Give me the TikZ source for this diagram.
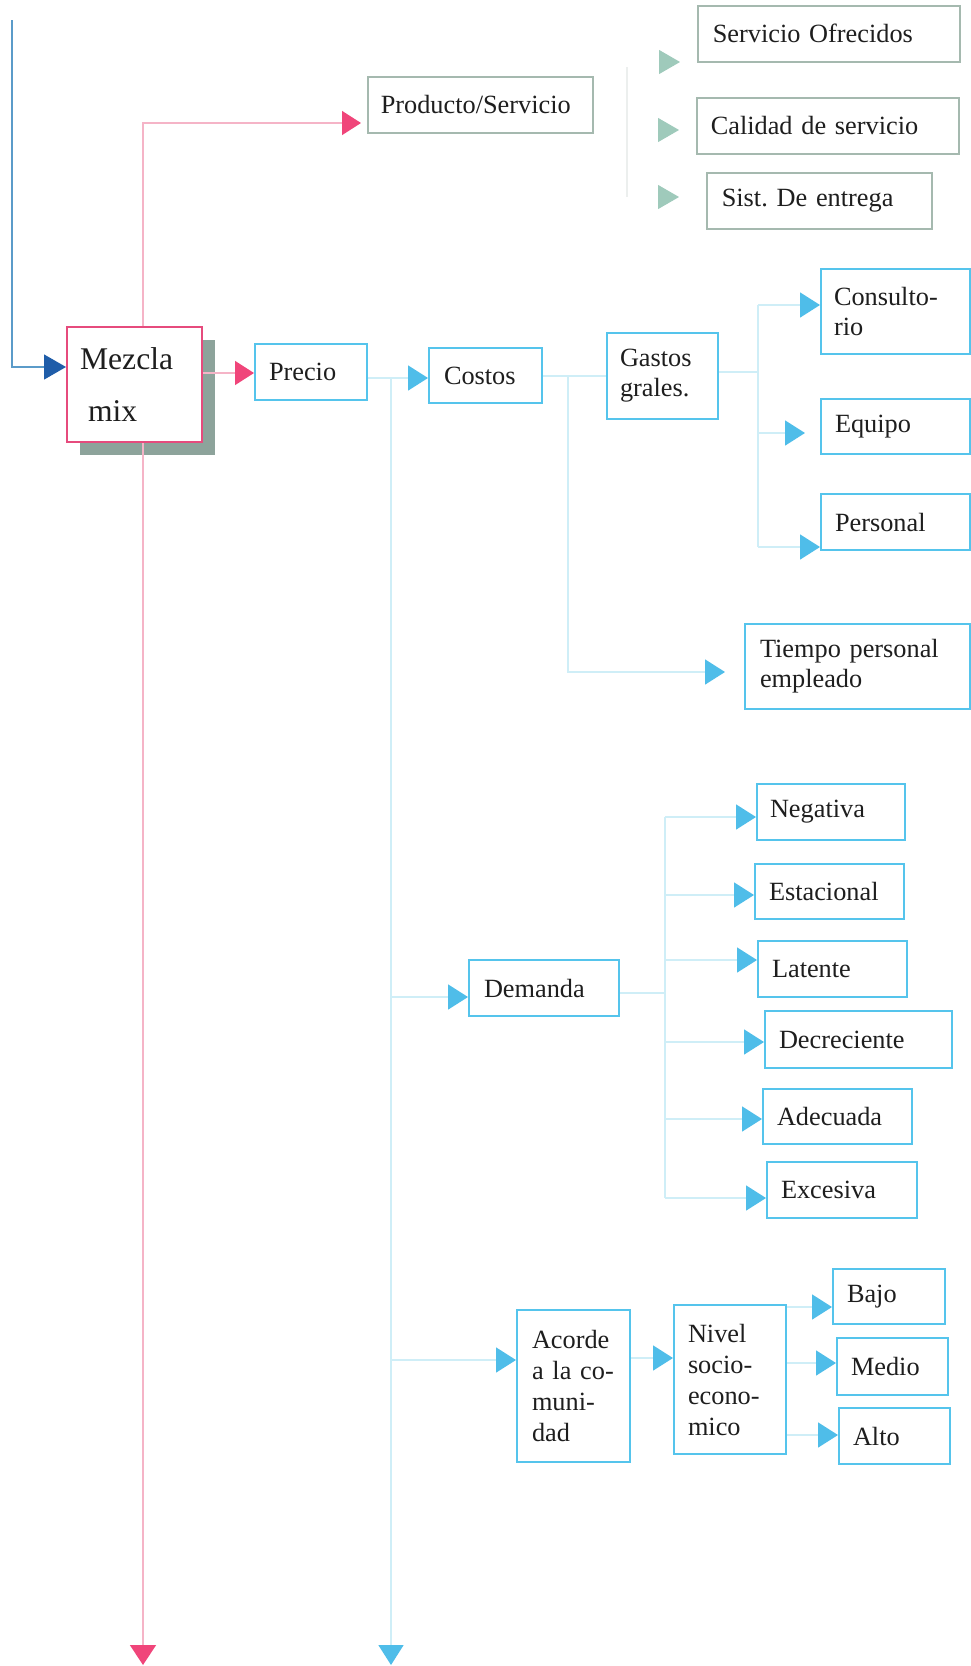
\documentclass[tikz,border=0pt]{standalone}
\usepackage{fontspec}
\setmainfont{Liberation Serif}
\usetikzlibrary{arrows.meta,calc,shadows}
\frenchspacing

\definecolor{ink}{HTML}{1E1E1E}
\definecolor{pinkEdge}{HTML}{E64B7D}
\definecolor{pinkTip}{HTML}{F0457A}
\definecolor{pinkWire}{HTML}{F5B4C7}
\definecolor{cyanEdge}{HTML}{55C4EC}
\definecolor{cyanTip}{HTML}{4FBDE9}
\definecolor{cyanWire}{HTML}{CFEEF7}
\definecolor{sageEdge}{HTML}{A5B9AF}
\definecolor{sageTip}{HTML}{9FCABB}
\definecolor{sageWire}{HTML}{ECEFEE}
\definecolor{blueWire}{HTML}{5B9BC9}
\definecolor{blueTip}{HTML}{1F5DA9}
\definecolor{shade}{HTML}{8DA39B}

\tikzset{
  lbl/.style={anchor=north west, align=left, inner ysep=0pt, text=ink, fill=white,
    font=\fontsize{26.3}{30}\selectfont},
  cbox/.style={lbl, draw=cyanEdge, line width=2pt},
  sbox/.style={lbl, draw=sageEdge, line width=1.6pt},
  pbox/.style={lbl, draw=pinkEdge, line width=2.2pt},
  cwire/.style={draw=cyanWire, line width=1.6pt},
  carrow/.style={cwire, -{Triangle[length=20pt,width=25pt,color=cyanTip]}},
  pwire/.style={draw=pinkWire, line width=1.4pt},
  parrow/.style={pwire, -{Triangle[length=19pt,width=24pt,color=pinkTip]}},
  sarrow/.style={draw=sageWire, line width=1pt, -{Triangle[length=21pt,width=24pt,color=sageTip]}},
  bwire/.style={draw=blueWire, line width=1.3pt, -{Triangle[length=22pt,width=25pt,color=blueTip]}},
}

% box with given left, top, right, bottom and left edge of its text
\newcommand\mkbox[8]{%
  \pgfmathsetmacro\mkw{#5-#3}%
  \pgfmathsetmacro\mkh{#6-#4}%
  \pgfmathsetmacro\mkd{#7-#3}%
  \pgfmathsetmacro\mkt{#5-#3-2*(#7-#3)}%
  \node[#1, minimum width=\mkw pt, minimum height=\mkh pt, inner xsep=\mkd pt, text width=\mkt pt] (#2) at (#3,#4) {#8};%
}

\begin{document}
\begin{tikzpicture}[x=1pt,y=-1pt]
\fill[white] (0,0) rectangle (971,1666);
\useasboundingbox (0,0) rectangle (971,1666);

% central box
\mkbox{pbox, font=\fontsize{31.6}{52}\selectfont,
  drop shadow={shadow xshift=13pt,shadow yshift=-13pt,fill=shade,opacity=1}}
  {mezcla}{66}{326}{201}{441}{79}{Mezcla\\\hspace*{8pt}mix}

% product branch
\mkbox{sbox}{prod}{367}{76}{592}{132}{380}{Producto/Servicio}
\mkbox{sbox}{so}{697}{5}{959}{61}{712}{Servicio Ofrecidos}
\mkbox{sbox}{cal}{696}{97}{958}{153}{710}{Calidad de servicio}
\mkbox{sbox}{sist}{706}{172}{931}{228}{721}{Sist. De entrega}

% price branch
\mkbox{cbox}{precio}{254}{343}{366}{399}{268}{Precio}
\mkbox{cbox}{costos}{428}{347}{541}{402}{443}{Costos}
\mkbox{cbox}{gastos}{606}{332}{717}{418}{619}{Gastos\\grales.}
\mkbox{cbox}{cons}{820}{268}{969}{353}{833}{Consulto-\\rio}
\mkbox{cbox}{equipo}{820}{398}{969}{453}{834}{Equipo}
\mkbox{cbox}{personal}{820}{493}{969}{549}{834}{Personal}
\mkbox{cbox}{tiempo}{744}{623}{969}{708}{759}{Tiempo personal\\empleado}

\mkbox{cbox}{demanda}{468}{959}{618}{1015}{483}{Demanda}
\mkbox{cbox}{neg}{756}{783}{904}{839}{769}{Negativa}
\mkbox{cbox}{est}{754}{863}{903}{918}{768}{Estacional}
\mkbox{cbox}{lat}{757}{940}{906}{996}{771}{Latente}
\mkbox{cbox}{dec}{764}{1010}{951}{1067}{778}{Decreciente}
\mkbox{cbox}{ade}{762}{1088}{911}{1143}{776}{Adecuada}
\mkbox{cbox}{exc}{766}{1161}{916}{1217}{780}{Excesiva}

\mkbox{cbox, font=\fontsize{26.3}{31}\selectfont}{acorde}{516}{1309}{629}{1461}{531}{Acorde\\a la co-\\muni-\\dad}
\mkbox{cbox, font=\fontsize{26.3}{31}\selectfont}{nivel}{673}{1304}{785}{1453}{687}{Nivel\\socio-\\econo-\\mico}
\mkbox{cbox}{bajo}{832}{1268}{944}{1323}{846}{Bajo}
\mkbox{cbox}{medio}{836}{1337}{947}{1394}{850}{Medio}
\mkbox{cbox}{alto}{838}{1407}{949}{1463}{852}{Alto}

% incoming line
\coordinate (bluetop) at (12,20);
\coordinate (yMz) at (0,367);
\draw[bwire] (bluetop) |- (mezcla.west |- yMz);

% pink connectors
\coordinate (pkx) at (143,0);
\coordinate (yProd) at (0,123);
\coordinate (yPrecio) at (0,373);
\coordinate (pinkEnd) at (143,1665);
\draw[parrow] (pkx |- mezcla.north) |- ($(prod.west |- yProd)+(-6,0)$);
\draw[parrow] (mezcla.east |- yPrecio) -- (precio.west |- yPrecio);
\draw[pwire, -{Triangle[length=20pt,width=26pt,color=pinkTip]}] (pkx |- mezcla.south) -- (pinkEnd);

% service markers
\coordinate (sgTop) at (627,67);
\coordinate (sgBot) at (627,197);
\draw[draw=sageWire, line width=1.4pt] (sgTop) -- (sgBot);
\coordinate (ySo) at (0,62);
\coordinate (yCal) at (0,130);
\coordinate (ySist) at (0,197);
\draw[sarrow] ($(so.west |- ySo)+(-38,0)$) -- ($(so.west |- ySo)+(-17,0)$);
\draw[sarrow] ($(cal.west |- yCal)+(-38,0)$) -- ($(cal.west |- yCal)+(-17,0)$);
\draw[sarrow] ($(sist.west |- ySist)+(-48,0)$) -- ($(sist.west |- ySist)+(-27,0)$);

% price trunk
\coordinate (trx) at (391,0);
\coordinate (yCost) at (0,378);
\coordinate (cyanEnd) at (391,1665);
\draw[carrow] (precio.east |- yCost) -- (costos.west |- yCost);
\draw[cwire, -{Triangle[length=20pt,width=25pt,color=cyanTip]}] (trx |- yCost) -- (cyanEnd);
\coordinate (yDem) at (0,997);
\draw[carrow] (trx |- yDem) -- (demanda.west |- yDem);
\coordinate (yAco) at (0,1360);
\draw[carrow] (trx |- yAco) -- (acorde.west |- yAco);

% costs
\coordinate (yGas) at (0,376);
\coordinate (cbx) at (568,0);
\coordinate (yTie) at (0,672);
\draw[cwire] (costos.east |- yGas) -- (gastos.west |- yGas);
\draw[carrow] (cbx |- yGas) |- ($(tiempo.west |- yTie)+(-19,0)$);

\coordinate (gfx) at (758,0);
\coordinate (yG) at (0,372);
\coordinate (yCons) at (0,305);
\coordinate (yEq) at (0,433);
\coordinate (yPers) at (0,547);
\draw[cwire] (gastos.east |- yG) -- (gfx |- yG);
\draw[cwire] (gfx |- yCons) -- (gfx |- yPers);
\draw[carrow] (gfx |- yCons) -- (cons.west |- yCons);
\draw[carrow] (gfx |- yEq) -- ($(equipo.west |- yEq)+(-15,0)$);
\draw[carrow] (gfx |- yPers) -- (personal.west |- yPers);

% demand kinds
\coordinate (dfx) at (665,0);
\coordinate (yD) at (0,993);
\draw[cwire] (demanda.east |- yD) -- (dfx |- yD);
\coordinate (yNeg) at (0,817);
\coordinate (yEst) at (0,895);
\coordinate (yLat) at (0,960);
\coordinate (yDec) at (0,1042);
\coordinate (yAde) at (0,1119);
\coordinate (yExc) at (0,1198);
\draw[cwire] (dfx |- yNeg) -- (dfx |- yExc);
\foreach \n/\y in {neg/yNeg, est/yEst, lat/yLat, dec/yDec, ade/yAde, exc/yExc}
  \draw[carrow] (dfx |- \y) -- (\n.west |- \y);

% community level
\coordinate (yNiv) at (0,1358);
\draw[carrow] (acorde.east |- yNiv) -- (nivel.west |- yNiv);
\coordinate (yBajo) at (0,1307);
\coordinate (yMedio) at (0,1363);
\coordinate (yAlto) at (0,1435);
\draw[carrow] (nivel.east |- yBajo) -- (bajo.west |- yBajo);
\draw[carrow] (nivel.east |- yMedio) -- (medio.west |- yMedio);
\draw[carrow] (nivel.east |- yAlto) -- (alto.west |- yAlto);
\end{tikzpicture}
\end{document}
